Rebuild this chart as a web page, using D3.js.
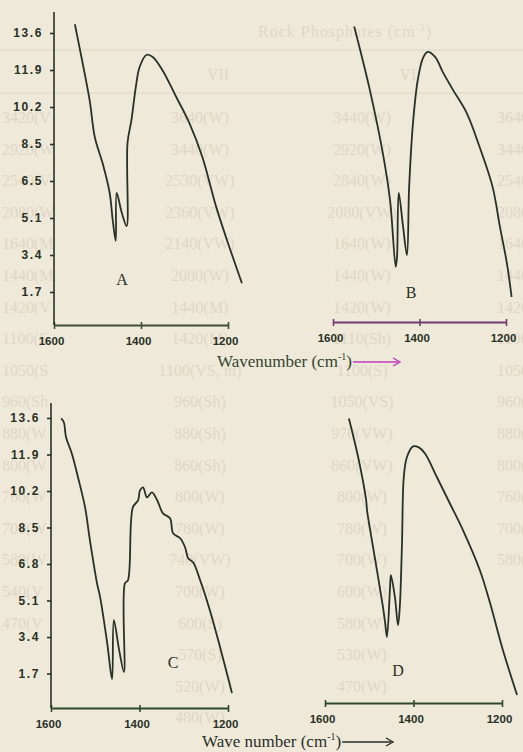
<!DOCTYPE html>
<html>
<head>
<meta charset="utf-8">
<script src="https://cdn.jsdelivr.net/npm/d3@7"></script>
<style>
body { margin: 0; background: #efe9da; }
svg { display: block; }
</style>
</head>
<body>
<svg id="chart" width="523" height="752"></svg>
<script>
// spectra: [wavenumber (cm-1), value]
var specA = [[1552,14.0],[1534,12.2],[1518,10.5],[1506,8.8],[1488,7.6],[1472,6.25],[1465,5.0],[1458,4.05],
  [1456,6.25],[1444,5.33],[1433,4.73],[1431,8.55],[1422,9.6],[1412,11.1],[1403,12.05],[1387,12.6],
  [1373,12.5],[1351,11.9],[1319,10.66],[1289,9.47],[1259,7.9],[1227,5.6],[1197,3.77],[1168,2.1]];
var specB = [[1551,13.9],[1515,11.0],[1485,8.1],[1468,5.9],[1455,2.85],[1452,3.3],[1448,6.25],[1438,4.7],
  [1429,3.4],[1424,6.5],[1415,9.47],[1404,11.44],[1392,12.45],[1381,12.73],[1364,12.5],[1346,11.8],
  [1323,11.0],[1291,9.93],[1261,8.36],[1231,6.53],[1214,4.69],[1198,3.03],[1187,1.47]];
var specC = [[1577,13.58],[1571,13.4],[1566,12.7],[1553,11.95],[1539,10.84],[1523,9.44],[1512,7.9],[1496,5.9],
  [1489,5.26],[1473,3.12],[1462,1.44],[1458,4.19],[1446,2.79],[1435,1.77],[1433,5.9],[1426,6.05],
  [1415,9.44],[1403,9.77],[1399,10.23],[1392,10.37],[1383,9.9],[1372,10.14],[1360,9.77],[1347,9.16],
  [1331,8.93],[1324,8.23],[1308,8.0],[1297,7.58],[1290,7.07],[1279,6.88],[1263,6.05],[1241,4.65],
  [1218,2.93],[1191,0.79]];
var specD = [[1546,13.58],[1525,11.77],[1507,9.77],[1505,9.3],[1494,7.9],[1480,6.19],[1469,4.79],[1464,4.05],
  [1460,3.4],[1453,5.72],[1451,6.28],[1442,5.26],[1435,3.95],[1431,4.79],[1426,7.77],[1422,10.84],
  [1415,11.77],[1401,12.28],[1388,12.23],[1374,11.95],[1347,10.84],[1318,9.63],[1288,8.37],[1250,6.51],
  [1227,4.98],[1198,2.79],[1166,0.7]];

var xTicks = [1600, 1400, 1200];
var yTicks = [13.6, 11.9, 10.2, 8.5, 6.8, 5.1, 3.4, 1.7];
var yLabelsTop = ["13.6", "11.9", "10.2", "8.5", "6.5", "5.1", "3.4", "1.7"];
var yLabelsBottom = ["13.6", "11.9", "10.2", "8.5", "6.8", "5.1", "3.4", "1.7"];
var panelNames = ["A", "B", "C", "D"];
var xTitles = ["Wavenumber", "Wave number"];

// faint print showing through from the other side of the page
var bleedHeader = ["Rock Phosphates (cm", "VII", "VI"];
var bleedCol0 = ["3420(V", "2920(W", "2540(V", "2080(W", "1640(M", "1440(M", "1420(V", "1100(S", "1050(S", "960(Sh", "880(W", "800(W", "760(W", "700(W", "580(W", "540(V", "470(V"];
var bleedCol1 = ["3640(W)", "3440(W)", "2530(VW)", "2360(VW)", "2140(VW)", "2080(W)", "1440(M)", "1420(M)", "1100(VS, m)", "960(Sh)", "880(Sh)", "860(Sh)", "800(W)", "780(W)", "740(VW)", "700(W)", "600(S)", "570(S)", "520(W)", "480(W)"];
var bleedCol2 = ["3440(W)", "2920(W)", "2840(W)", "2080(VW)", "1640(W)", "1440(W)", "1420(W)", "1110(Sh)", "1100(S)", "1050(VS)", "970(VW)", "860(VW)", "800(W)", "780(W)", "700(W)", "600(W)", "580(W)", "530(W)", "470(W)"];
var bleedCol3 = ["3640(V", "3440(W", "2540(V", "2080(W", "1640(M", "1440(V", "1420(V", "1100(S", "1050(S", "960(Sh", "880(S", "800(W", "760(W", "700(W", "580(V"];

var svg = d3.select("#chart");
var ink = "#283125";
var bleedInk = "#dfd7c6";

svg.append("rect").attr("width", 523).attr("height", 752).attr("fill", "#efe9da");

//bleed-through layer, drawn first so the spectra sit on top
var bleed = svg.append("g")
    .style("font-family", "'Liberation Serif', serif")
    .style("font-size", "16px")
    .attr("fill", bleedInk);
var head = bleed.append("text").attr("x", 258).attr("y", 37).style("letter-spacing", "1px");
head.append("tspan").text(bleedHeader[0]);
head.append("tspan").attr("dy", -6).style("font-size", "10px").text("-1");
head.append("tspan").attr("dy", 6).text(")");
bleed.append("text").attr("x", 218).attr("y", 80).attr("text-anchor", "middle").text(bleedHeader[1]);
bleed.append("text").attr("x", 408).attr("y", 80).attr("text-anchor", "middle").text(bleedHeader[2]);
bleed.selectAll("line.rule").data([50, 93]).enter().append("line")
    .attr("class", "rule")
    .attr("x1", 0).attr("x2", 523)
    .attr("y1", function(d){ return d; }).attr("y2", function(d){ return d; })
    .attr("stroke", bleedInk).attr("stroke-width", 1.2);

function bleedColumn(list, x, anchor) {
    bleed.append("g").selectAll("text").data(list).enter().append("text")
        .attr("x", x)
        .attr("y", function(d, i){ return 123 + i * 31.6; })
        .attr("text-anchor", anchor)
        .text(function(d){ return d; });
}
bleedColumn(bleedCol0, 2, "start");
bleedColumn(bleedCol1, 200, "middle");
bleedColumn(bleedCol2, 362, "middle");
bleedColumn(bleedCol3, 497, "start");

// panel layout: x range of each axis, baseline row, axis colour, letter position
var panels = [
    {data: specA, x0: 54, x1: 228, axisY: 325, top: 12, yRange: [329, 33], yAxis: true, labels: yLabelsTop, color: "#3b5035", letter: [122, 285]},
    {data: specB, x0: 333, x1: 506, axisY: 322, yRange: [329, 33], yAxis: false, color: "#6e3c72", letter: [411, 298]},
    {data: specC, x0: 51, x1: 228, axisY: 708, top: 403, yRange: [710, 418], yAxis: true, labels: yLabelsBottom, color: "#2f4a2b", letter: [173, 668]},
    {data: specD, x0: 325, x1: 502, axisY: 703, yRange: [710, 418], yAxis: false, color: "#2f4a2b", letter: [398, 676]}
];

panels.forEach(function(p, k) {
    var x = d3.scaleLinear().domain([1600, 1200]).range([p.x0, p.x1]);
    var y = d3.scaleLinear().domain([0, 13.6]).range(p.yRange);
    var g = svg.append("g");

    var xAxis = d3.axisBottom(x).tickValues(xTicks).tickSize(4).tickSizeOuter(0).tickPadding(8)
        .tickFormat(d3.format("d"));
    var ax = g.append("g").attr("transform", "translate(0," + p.axisY + ")").call(xAxis);
    ax.select(".domain").attr("stroke", p.color).attr("stroke-width", 2);
    ax.selectAll(".tick line").attr("stroke", p.color).attr("stroke-width", 1.6).attr("y1", -3);
    ax.selectAll(".tick text").attr("fill", ink).attr("dx", -3)
        .style("font-family", "'Liberation Sans', Arial, sans-serif")
        .style("font-weight", "bold").style("font-size", "11.5px");

    if (p.yAxis) {
        var yAxis = d3.axisLeft(y).tickValues(yTicks).tickSize(4).tickPadding(7)
            .tickFormat(function(d, i){ return p.labels[i]; });
        var ay = g.append("g").attr("transform", "translate(" + p.x0 + ",0)").call(yAxis);
        ay.select(".domain").remove();
        ay.selectAll(".tick line").attr("stroke", ink).attr("stroke-width", 1.6);
        ay.selectAll(".tick text").attr("fill", ink)
            .style("font-family", "'Liberation Sans', Arial, sans-serif")
            .style("font-weight", "bold").style("font-size", "12px").style("letter-spacing", "1.6px");
        g.append("line")
            .attr("x1", p.x0).attr("x2", p.x0).attr("y1", p.top).attr("y2", p.axisY)
            .attr("stroke", ink).attr("stroke-width", 1.6);
    }

    var line = d3.line()
        .x(function(d){ return x(d[0]); })
        .y(function(d){ return y(d[1]); })
        .curve(d3.curveCatmullRom.alpha(0.5));
    g.append("path").datum(p.data)
        .attr("d", line)
        .attr("fill", "none")
        .attr("stroke", ink)
        .attr("stroke-width", 1.8)
        .attr("stroke-linejoin", "round");

    g.append("text")
        .attr("x", p.letter[0]).attr("y", p.letter[1])
        .attr("text-anchor", "middle")
        .attr("fill", ink)
        .style("font-family", "'Liberation Serif', serif").style("font-size", "16px")
        .text(panelNames[k]);
});

// axis titles with arrow
function axisTitle(label, xPos, yPos, textColor, arrowColor, arrowEnd) {
    var t = svg.append("text")
        .attr("x", xPos).attr("y", yPos)
        .attr("fill", textColor)
        .style("font-family", "'Liberation Serif', serif").style("font-size", "17px");
    t.append("tspan").text(label + " (cm");
    t.append("tspan").attr("dy", -7).style("font-size", "10px").text("-1");
    t.append("tspan").attr("dy", 7).text(")");
    var end = xPos + t.node().getComputedTextLength() + 1;
    var ay = yPos - 5;
    svg.append("line").attr("x1", end).attr("x2", arrowEnd - 2).attr("y1", ay).attr("y2", ay)
        .attr("stroke", arrowColor).attr("stroke-width", 1.6);
    svg.append("path")
        .attr("d", "M" + (arrowEnd - 7) + "," + (ay - 4) + "L" + arrowEnd + "," + ay + "L" + (arrowEnd - 7) + "," + (ay + 4))
        .attr("fill", "none").attr("stroke", arrowColor).attr("stroke-width", 1.4);
}
axisTitle(xTitles[0], 217, 367, "#33452f", "#c03ac0", 400);
axisTitle(xTitles[1], 202, 747, "#2a2f28", "#2a2f28", 393);
</script>
</body>
</html>
